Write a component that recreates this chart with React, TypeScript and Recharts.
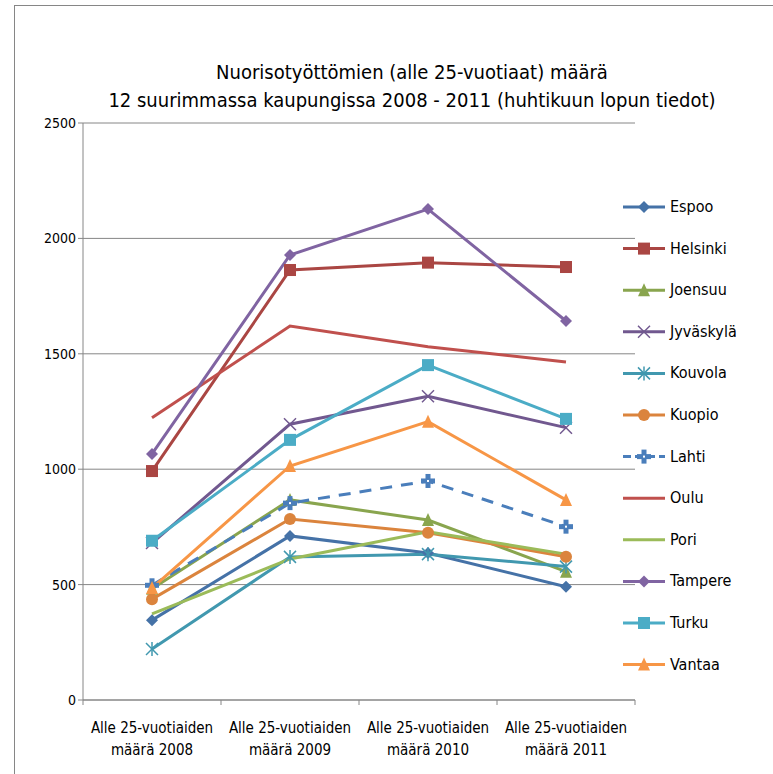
import React from "react";
import { LineChart, Line, CartesianGrid, XAxis, YAxis } from "recharts";

const years = ["2008", "2009", "2010", "2011"];
const tickTop = ["Alle 25-vuotiaiden", "Alle 25-vuotiaiden", "Alle 25-vuotiaiden", "Alle 25-vuotiaiden"];
const tickBottom = ["määrä 2008", "määrä 2009", "määrä 2010", "määrä 2011"];
const yTicks = [0, 500, 1000, 1500, 2000, 2500];

const espoo = [346, 711, 637, 491];
const helsinki = [992, 1863, 1895, 1876];
const joensuu = [482, 867, 780, 556];
const jyvaskyla = [680, 1195, 1316, 1180];
const kouvola = [221, 620, 632, 578];
const kuopio = [437, 784, 725, 621];
const lahti = [497, 853, 949, 751];
const oulu = [1223, 1620, 1531, 1464];
const pori = [373, 611, 729, 632];
const tampere = [1066, 1928, 2127, 1642];
const turku = [690, 1127, 1451, 1218];
const vantaa = [485, 1014, 1206, 867];

type Shape = "diamond" | "square" | "triangle" | "x" | "star" | "circle" | "plus" | "none";

const series: { key: string; name: string; values: number[]; color: string; shape: Shape; dash?: string }[] = [
  { key: "espoo", name: "Espoo", values: espoo, color: "#4572A7", shape: "diamond" },
  { key: "helsinki", name: "Helsinki", values: helsinki, color: "#AA4643", shape: "square" },
  { key: "joensuu", name: "Joensuu", values: joensuu, color: "#89A54E", shape: "triangle" },
  { key: "jyvaskyla", name: "Jyväskylä", values: jyvaskyla, color: "#71588F", shape: "x" },
  { key: "kouvola", name: "Kouvola", values: kouvola, color: "#4198AF", shape: "star" },
  { key: "kuopio", name: "Kuopio", values: kuopio, color: "#DB843D", shape: "circle" },
  { key: "lahti", name: "Lahti", values: lahti, color: "#4A7EBB", shape: "plus", dash: "12 9" },
  { key: "oulu", name: "Oulu", values: oulu, color: "#C0504D", shape: "none" },
  { key: "pori", name: "Pori", values: pori, color: "#9BBB59", shape: "none" },
  { key: "tampere", name: "Tampere", values: tampere, color: "#8064A2", shape: "diamond" },
  { key: "turku", name: "Turku", values: turku, color: "#4BACC6", shape: "square" },
  { key: "vantaa", name: "Vantaa", values: vantaa, color: "#F79646", shape: "triangle" },
];

const data = years.map((y, i) => {
  const row: any = { year: y, idx: i };
  series.forEach((s) => (row[s.key] = s.values[i]));
  return row;
});

const font = "'DejaVu Sans Condensed', 'Liberation Sans', sans-serif";

function Marker({ shape, color, cx, cy }: { shape: Shape; color: string; cx: number; cy: number }) {
  const s = 6;
  switch (shape) {
    case "diamond":
      return <polygon points={`${cx},${cy - s} ${cx + s},${cy} ${cx},${cy + s} ${cx - s},${cy}`} fill={color} />;
    case "square":
      return <rect x={cx - s} y={cy - s} width={s * 2} height={s * 2} fill={color} />;
    case "triangle":
      return <polygon points={`${cx},${cy - s - 1} ${cx + s},${cy + s} ${cx - s},${cy + s}`} fill={color} />;
    case "x":
      return (
        <g stroke={color} strokeWidth={1.5}>
          <line x1={cx - s} y1={cy - s} x2={cx + s} y2={cy + s} />
          <line x1={cx - s} y1={cy + s} x2={cx + s} y2={cy - s} />
        </g>
      );
    case "star":
      return (
        <g stroke={color} strokeWidth={1.5}>
          <line x1={cx - s} y1={cy - s} x2={cx + s} y2={cy + s} />
          <line x1={cx - s} y1={cy + s} x2={cx + s} y2={cy - s} />
          <line x1={cx} y1={cy - s - 1} x2={cx} y2={cy + s + 1} />
        </g>
      );
    case "circle":
      return <circle cx={cx} cy={cy} r={s} fill={color} />;
    case "plus":
      return (
        <g>
          <rect x={cx - 2.5} y={cy - s - 1} width={5} height={s * 2 + 2} fill={color} />
          <rect x={cx - s - 1} y={cy - 2.5} width={s * 2 + 2} height={5} fill={color} />
          <rect x={cx - 1} y={cy - 1} width={2} height={2} fill="#ffffff" />
        </g>
      );
    default:
      return null;
  }
}

const makeDot = (shape: Shape, color: string) => (props: any) => {
  const { cx, cy, index } = props;
  if (shape === "none" || cx == null || cy == null) return <g key={`d-${index}`} />;
  return (
    <g key={`d-${index}`}>
      <Marker shape={shape} color={color} cx={cx} cy={cy} />
    </g>
  );
};

const XTick = (props: any) => {
  const { x, y, payload, index } = props;
  const i = payload.index ?? index;
  const half = 69;
  return (
    <g>
      <line x1={x - half} y1={y - 8} x2={x - half} y2={y - 3} stroke="#868686" />
      {i === years.length - 1 && <line x1={x + half} y1={y - 8} x2={x + half} y2={y - 3} stroke="#868686" />}
      <text x={x} y={y + 25} textAnchor="middle" fontSize={15} fontFamily={font} fill="#000">
        {tickTop[i]}
      </text>
      <text x={x} y={y + 47} textAnchor="middle" fontSize={15} fontFamily={font} fill="#000">
        {tickBottom[i]}
      </text>
    </g>
  );
};

export default function App() {
  return (
    <div style={{ position: "absolute", left: 0, top: 0, width: 773, height: 774, background: "#fff", overflow: "hidden" }}>
      <div
        style={{
          position: "absolute",
          left: 14,
          top: 5,
          width: 800,
          height: 800,
          border: "1px solid #868686",
          boxSizing: "border-box",
        }}
      />
      <div
        style={{
          position: "absolute",
          left: 0,
          top: 58,
          width: 824,
          textAlign: "center",
          fontFamily: font,
          fontSize: 20,
          lineHeight: "28px",
          color: "#000",
        }}
      >
        Nuorisotyöttömien (alle 25-vuotiaat) määrä
        <br />
        12 suurimmassa kaupungissa 2008 - 2011 (huhtikuun lopun tiedot)
      </div>
      <div style={{ position: "absolute", left: 0, top: 0 }}>
        <LineChart width={773} height={774} data={data} margin={{ top: 123, right: 138, bottom: 14, left: 23 }}>
          <CartesianGrid vertical={false} stroke="#868686" strokeWidth={1} />
          <XAxis
            dataKey="year"
            height={60}
            stroke="#868686"
            tickLine={false}
            tick={<XTick />}
            interval={0}
            padding={{ left: 69, right: 69 }}
          />
          <YAxis
            width={60}
            domain={[0, 2500]}
            ticks={yTicks}
            stroke="#868686"
            tickSize={5}
            tick={{ fontSize: 14, fontFamily: font, fill: "#000" }}
          />
          {series.map((s) => (
            <Line
              key={s.key}
              dataKey={s.key}
              name={s.name}
              stroke={s.color}
              strokeWidth={3}
              strokeDasharray={s.dash}
              dot={makeDot(s.shape, s.color)}
              activeDot={false}
              isAnimationActive={false}
            />
          ))}
        </LineChart>
      </div>
      <svg style={{ position: "absolute", left: 0, top: 0 }} width={773} height={774}>
        {series.map((s, i) => {
          const cy = 207 + i * 41.6;
          return (
            <g key={s.key}>
              <line x1={623} y1={cy} x2={665} y2={cy} stroke={s.color} strokeWidth={3} strokeDasharray={s.dash ? "8 4" : undefined} />
              <Marker shape={s.shape} color={s.color} cx={644} cy={cy} />
              <text x={670} y={cy + 5} fontSize={16} fontFamily={font} fill="#000">
                {s.name}
              </text>
            </g>
          );
        })}
      </svg>
    </div>
  );
}
